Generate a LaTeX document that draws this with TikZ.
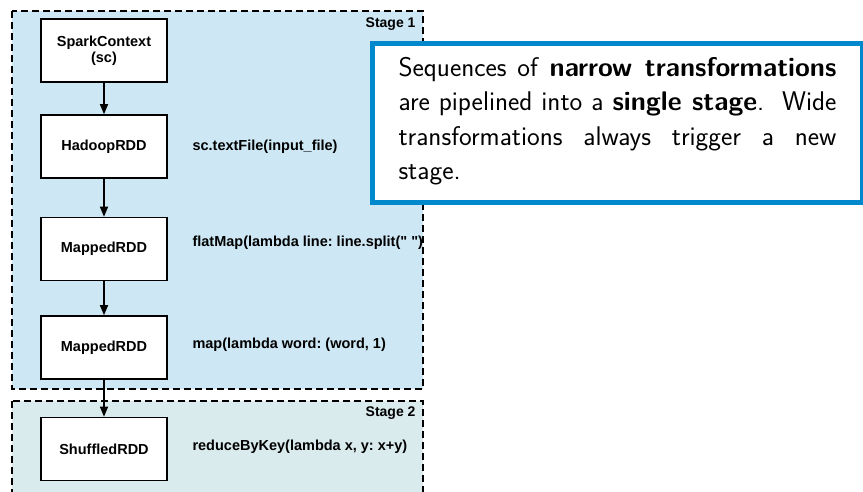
\documentclass[tikz,border=0pt]{standalone}
\usepackage{fontspec}
\usetikzlibrary{arrows.meta}
\newfontfamily\diagfont{Liberation Sans}
\definecolor{stageone}{RGB}{205,232,244}
\definecolor{stagetwo}{RGB}{218,235,237}
\definecolor{calloutblue}{RGB}{0,136,204}
\frenchspacing
\tikzset{
  rddbox/.style={draw, line width=1.6pt, fill=white, minimum width=126pt, minimum height=63pt, font=\diagfont\bfseries\fontsize{14.5}{16}\selectfont, align=center},
  oplabel/.style={anchor=west, font=\diagfont\bfseries\fontsize{14.5}{16}\selectfont},
  stagelabel/.style={anchor=east, font=\diagfont\bfseries\fontsize{14}{15}\selectfont},
  stagebox/.style={draw, line width=1.5pt, dash pattern=on 7pt off 4pt},
  flow/.style={-{Triangle[length=10pt,width=8pt]}, line width=1.5pt}
}
\begin{document}
\begin{tikzpicture}[x=1pt,y=-1pt]
\useasboundingbox (0,0) rectangle (863,491);
\clip (0,0) rectangle (863,491);
% stages
\draw[stagebox, fill=stageone] (12,11) rectangle (423,389);
\draw[stagebox, fill=stagetwo] (12,401) rectangle (423,500);
\node[stagelabel] (stage1) at (419,24) {Stage 1};
\node[stagelabel] (stage2) at (419,413) {Stage 2};

\node[rddbox] (spark) at (104,50.5) {SparkContext\\(sc)};
\node[rddbox] (hadoop) at (104,146.5) {HadoopRDD};
\node[rddbox] (mapped1) at (104,249) {MappedRDD};
\node[rddbox] (mapped2) at (104,347.5) {MappedRDD};
\node[rddbox] (shuffled) at (104,449) {ShuffledRDD};

\node[oplabel] (textfile) at (189,146.5) {sc.textFile(input\_file)};
\node[oplabel] (flatmap) at (189,243) {flatMap(lambda line: line.split(" ")};
\node[oplabel] (mapword) at (189,345) {map(lambda word: (word, 1)};
\node[oplabel] (reduce) at (189,447) {reduceByKey(lambda x, y: x+y)};

\draw[flow] (spark) -- (hadoop);
\draw[flow] (hadoop) -- (mapped1);
\draw[flow] (mapped1) -- (mapped2);
\draw[flow] (mapped2) -- (shuffled);

% callout
\node[draw=calloutblue, line width=5pt, fill=white, anchor=north west, minimum width=490pt, minimum height=159pt, text width=438pt, align=justify, inner sep=0pt, font=\sffamily\fontsize{27}{34.5}\selectfont] (note) at (370,41)
  {\hyphenpenalty=10000 Sequences of \textbf{narrow transformations} are pipelined into a \textbf{single stage}.\ \ Wide transformations always trigger a new stage.\vspace{4pt}};
\end{tikzpicture}
\end{document}
